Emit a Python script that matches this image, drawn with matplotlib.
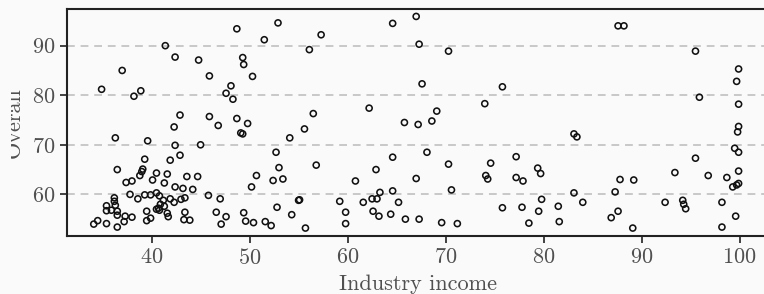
import numpy as np
import matplotlib
matplotlib.use("Agg")
import matplotlib.pyplot as plt
from matplotlib.transforms import Bbox, TransformedBbox

plt.rcParams.update({
    "font.family": "cmr10",
    "mathtext.fontset": "cm",
    "axes.formatter.use_mathtext": True,
    "font.size": 16,
})

# values
industry_income = [
    48.7, 41.4, 42.4, 44.8, 49.3, 49.4, 37.0, 45.9, 50.3, 34.9,
    38.9, 38.2, 48.1, 47.6, 48.3, 42.9, 45.9, 42.3, 46.8, 48.7,
    49.8, 49.1, 49.3, 36.3, 39.6, 42.4, 45.0, 42.9, 39.3, 41.9,
    36.5, 39.1, 38.8, 40.5, 41.6, 43.6, 44.7, 37.4, 38.0, 40.1,
    41.3, 42.4, 43.2, 44.2, 45.8, 47.0, 50.2, 50.7, 37.8, 38.6,
    39.3, 39.9, 40.5, 40.8, 41.2, 41.9, 42.3, 43.0, 43.4, 40.9,
    41.3, 40.5, 40.7, 36.2, 36.2, 35.4, 36.3, 35.4, 35.9, 36.5,
    36.5, 36.5, 34.5, 34.1, 35.4, 37.2, 37.3, 38.0, 39.5, 39.5,
    39.9, 41.6, 41.7, 43.4, 43.3, 43.9, 46.6, 47.1, 47.6, 49.4,
    49.6, 50.4, 52.9, 51.5, 54.1, 52.7, 53.0, 52.4, 53.4, 52.8,
    54.3, 51.6, 52.2, 64.6, 67.0, 57.3, 56.1, 67.3, 70.3, 67.6,
    75.8, 74.0, 62.2, 69.1, 56.5, 65.8, 67.2, 68.6, 55.6, 64.6,
    68.1, 56.8, 70.3, 74.6, 62.9, 60.8, 67.0, 74.1, 74.3, 63.3,
    64.6, 70.6, 55.0, 55.1, 59.2, 61.6, 62.5, 63.0, 65.2, 59.8,
    62.6, 63.2, 64.4, 75.8, 55.7, 59.8, 65.9, 67.3, 69.6, 71.2,
    77.2, 77.2, 77.9, 77.8, 87.6, 88.2, 95.5, 99.9, 99.7, 95.9,
    99.9, 83.1, 83.4, 99.9, 99.8, 99.5, 99.9, 95.5, 79.4, 79.7,
    93.4, 96.8, 99.9, 87.8, 89.2, 98.7, 99.3, 99.7, 99.9, 83.1,
    87.3, 79.8, 84.0, 92.4, 94.2, 94.3, 94.5, 98.2, 79.5, 81.5,
    87.6, 86.9, 99.6, 78.5, 81.6, 89.1, 98.2, 39.0, 40.8,
]
overall = [
    93.4, 90.0, 87.7, 87.1, 87.6, 86.2, 85.0, 83.9, 83.8, 81.2,
    80.9, 79.8, 81.9, 80.4, 79.2, 76.0, 75.7, 73.6, 73.9, 75.3,
    74.3, 72.4, 72.2, 71.4, 70.8, 69.9, 70.0, 67.9, 67.1, 66.9,
    65.0, 65.1, 63.8, 64.3, 64.1, 63.6, 63.6, 62.4, 62.7, 62.9,
    62.3, 61.5, 61.2, 61.0, 59.8, 59.1, 61.5, 63.8, 60.0, 59.1,
    59.9, 59.9, 60.3, 59.7, 58.8, 59.1, 58.4, 59.0, 59.3, 58.0,
    57.6, 57.0, 57.2, 59.3, 58.6, 57.7, 57.8, 56.7, 56.8, 56.6,
    55.8, 53.4, 54.7, 54.0, 54.1, 54.5, 55.6, 55.4, 56.6, 54.7,
    55.2, 56.2, 55.5, 56.4, 54.9, 54.8, 56.4, 54.0, 55.5, 56.3,
    54.6, 54.3, 94.6, 91.2, 71.4, 68.5, 65.4, 62.8, 63.1, 57.4,
    55.9, 54.5, 53.7, 94.5, 95.9, 92.2, 89.2, 90.3, 88.9, 82.3,
    81.7, 78.3, 77.4, 76.8, 76.3, 74.5, 74.1, 74.8, 73.2, 67.5,
    68.5, 65.9, 66.1, 66.3, 65.0, 62.7, 63.2, 63.8, 63.1, 60.4,
    60.7, 60.9, 58.8, 58.9, 58.6, 58.4, 59.1, 59.1, 58.4, 56.4,
    56.6, 55.6, 56.0, 57.3, 53.2, 54.1, 55.0, 55.0, 54.3, 54.1,
    67.6, 63.4, 62.7, 57.4, 94.0, 94.0, 88.9, 85.3, 82.8, 79.6,
    78.2, 72.2, 71.6, 73.7, 72.6, 69.3, 68.5, 67.3, 65.3, 64.2,
    64.4, 63.8, 64.7, 63.0, 62.9, 63.4, 61.5, 61.9, 62.2, 60.3,
    60.5, 59.0, 58.4, 58.4, 58.8, 58.0, 57.1, 58.4, 56.6, 57.6,
    56.6, 55.3, 55.6, 54.2, 54.5, 53.2, 53.4, 64.6, 56.8,
]
y_ticks = [60, 70, 80, 90]
x_ticks = [40, 50, 60, 70, 80, 90, 100]

bg = "#fafafa"
W, H = 764, 294
fig = plt.figure(figsize=(W / 100, H / 100), dpi=100, facecolor=bg)
ax = fig.add_axes([67.3 / W, 58 / H, (768 - 67.3) / W, 227 / H], facecolor=bg)

ax.scatter(industry_income, overall, s=19, facecolors="none",
           edgecolors="#111111", linewidths=1.15, zorder=3)

ax.set_xlim(31.4, 102.9)
ax.set_ylim(51.6, 97.4)
ax.set_xticks(x_ticks)
ax.set_yticks(y_ticks)
ax.yaxis.grid(True, color="#c8c8c8", linestyle=(0, (4, 3)), linewidth=1.4)
ax.set_axisbelow(True)

for s in ax.spines.values():
    s.set_linewidth(1.5)
    s.set_color("#222222")
ax.tick_params(direction="out", length=5, width=1.2, colors="#222222",
               labelcolor="#505050", labelsize=16, pad=3.5)

ax.set_xlabel("Industry income", fontsize=16, color="#505050", labelpad=5)
ax.set_ylabel("Overall", fontsize=16, color="#505050", labelpad=6)

# the reference is cropped through the top of the y label
lab = ax.yaxis.label
lab.set_clip_on(True)
lab.set_clip_box(TransformedBbox(Bbox([[11 / W, 0], [1, 1]]), fig.transFigure))

fig.savefig("out.png", dpi=100, facecolor=bg)
